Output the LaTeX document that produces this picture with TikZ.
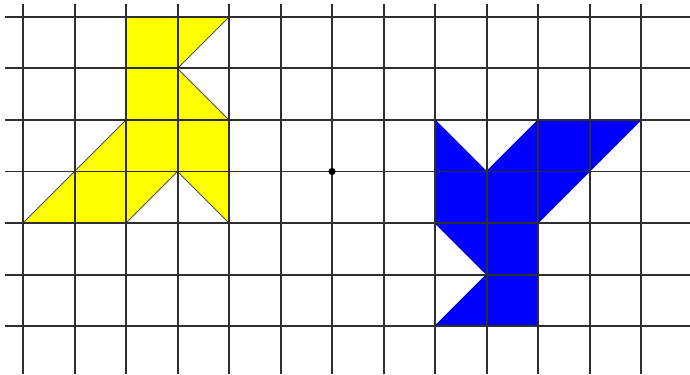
\documentclass[tikz,border=0pt]{standalone}
\usepackage{xcolor}
\usepackage{tikz}
\definecolor{gridline}{HTML}{2E2E2E}
\definecolor{lemon}{HTML}{FFFF00}
\definecolor{royal}{HTML}{0000FF}
\definecolor{pin}{HTML}{FF0000}

\begin{document}
\begin{tikzpicture}[x=1cm, y=1cm]
  \useasboundingbox (-0.447,-0.932) rectangle (12.95,6.33);

  % original figure
  \filldraw[fill=lemon, draw=black!70, line width=0.5pt]
    (2,6) -- (4,6) -- (3,5) -- (4,4) -- (4,2) -- (3,3) -- (2,2)
    -- (0,2) -- (2,4) -- cycle;

  % its image under the half turn
  \filldraw[fill=royal, draw=royal!80!black, line width=0.5pt]
    (8,4) -- (9,3) -- (10,4) -- (12,4) -- (10,2) -- (10,0) -- (8,0)
    -- (9,1) -- (8,2) -- cycle;

  % grid
  \foreach \j in {0,...,6}
    \draw[gridline, line width=1.1pt] (-0.35,\j) -- (12.95,\j);
  \foreach \i in {0,...,12}
    \draw[gridline, line width=1.1pt] (\i,-0.932) -- (\i,6.26);

  % centre of the turn
  \coordinate (centre) at (6,3);
  \fill[pin] (centre) circle (2pt);
\end{tikzpicture}
\end{document}
